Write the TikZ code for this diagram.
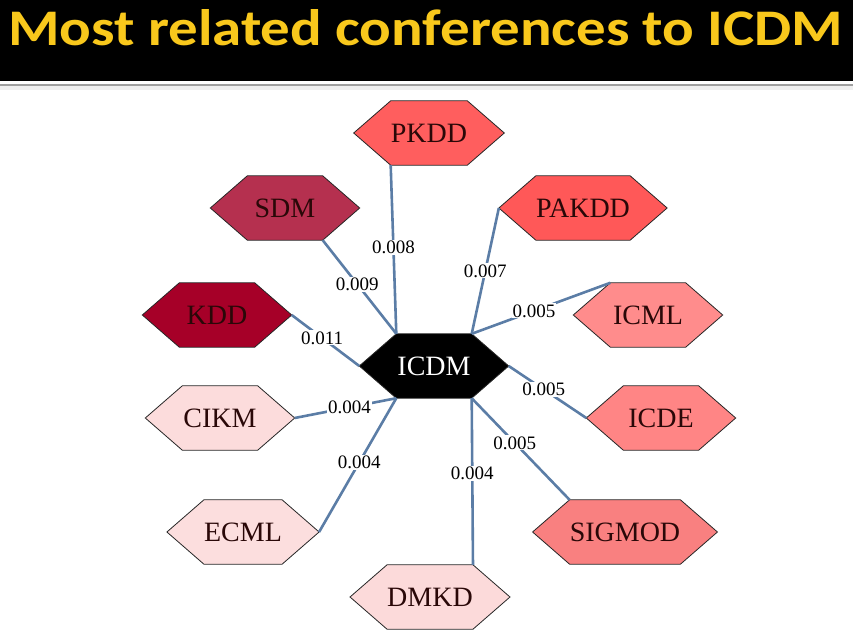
\documentclass[tikz,border=0pt]{standalone}
\usepackage{fontspec}
\setmainfont{Liberation Serif}
\newfontfamily\titlefont{Carlito}
\usetikzlibrary{backgrounds,calc}
\definecolor{titleyellow}{HTML}{F9C81C}
\definecolor{edgeblue}{HTML}{5B7DA6}
\definecolor{nodetext}{HTML}{2A0808}
\definecolor{cKDD}{HTML}{A60028}
\definecolor{cSDM}{HTML}{B5304F}
\definecolor{cPKDD}{HTML}{FF5E5E}
\definecolor{cPAKDD}{HTML}{FF5858}
\definecolor{cICML}{HTML}{FF8C8C}
\definecolor{cICDE}{HTML}{FF8585}
\definecolor{cSIGMOD}{HTML}{F98080}
\definecolor{cCIKM}{HTML}{FCDCDC}
\definecolor{cECML}{HTML}{FCDEDE}
\definecolor{cDMKD}{HTML}{FCDADA}
\newcommand\hexbg[2]{%
  \begin{pgfonlayer}{background}
  \filldraw[fill=#2, draw=black!85, line width=0.8pt]
    (#1.north west) -- (#1.north east) -- ([xshift=37pt]#1.east) --
    (#1.south east) -- (#1.south west) -- ([xshift=-37pt]#1.west) -- cycle;
  \end{pgfonlayer}}
\begin{document}
\begin{tikzpicture}[x=1pt,y=-1pt,
  hexlab/.style={rectangle, minimum width=75pt, minimum height=64pt, inner sep=0pt,
    font=\fontsize{28}{30}\selectfont, text=nodetext},
  conn/.style={draw=edgeblue, line width=2.6pt},
  wlab/.style={fill=white, inner sep=1pt, text=black, font=\fontsize{19}{21}\selectfont},
  titlestyle/.style={inner sep=0pt, anchor=base west, text=titleyellow}]
\useasboundingbox (0,0) rectangle (853,636);
% title bar
\fill[black] (0,0) rectangle (853,81);
\node[titlestyle] (title) at (8,46)
  {\resizebox{835pt}{36pt}{\titlefont\bfseries Most related conferences to ICDM}};
\fill[gray!12] (0,86) rectangle (853,90);
\draw[gray!75, line width=2pt] (0,85) -- (853,85);
% nodes
\node[hexlab, text=white] (icdm) at (434,366) {ICDM};
\node[hexlab] (pkdd)   at (429,133) {PKDD};
\node[hexlab] (sdm)    at (285,208) {SDM};
\node[hexlab] (pakdd)  at (583,208) {PAKDD};
\node[hexlab] (kdd)    at (217,315) {KDD};
\node[hexlab] (icml)   at (648,315) {ICML};
\node[hexlab] (cikm)   at (220,418) {CIKM};
\node[hexlab] (icde)   at (661,418) {ICDE};
\node[hexlab] (ecml)   at (243,532) {ECML};
\node[hexlab] (sigmod) at (625,532) {SIGMOD};
\node[hexlab] (dmkd)   at (430,597) {DMKD};
\hexbg{icdm}{black}
\hexbg{pkdd}{cPKDD}
\hexbg{sdm}{cSDM}
\hexbg{pakdd}{cPAKDD}
\hexbg{kdd}{cKDD}
\hexbg{icml}{cICML}
\hexbg{cikm}{cCIKM}
\hexbg{icde}{cICDE}
\hexbg{ecml}{cECML}
\hexbg{sigmod}{cSIGMOD}
\hexbg{dmkd}{cDMKD}
% connectors
\draw[conn] ([xshift=37pt]kdd.east) -- node[wlab, pos=0.45] {0.011} ([xshift=-37pt]icdm.west);
\draw[conn] (sdm.south east) -- node[wlab, pos=0.47] {0.009} (icdm.north west);
\draw[conn] (pkdd.south west) -- node[wlab, pos=0.49] {0.008} (icdm.north west);
\draw[conn] ([xshift=-37pt]pakdd.west) -- node[wlab, pos=0.5] {0.007} (icdm.north east);
\draw[conn] (icml.north west) -- node[wlab, pos=0.55] {0.005} (icdm.north east);
\draw[conn] ([xshift=37pt]icdm.east) -- node[wlab, pos=0.45] {0.005} ([xshift=-37pt]icde.west);
\draw[conn] (icdm.south east) -- node[wlab, pos=0.44] {0.005} (sigmod.north west);
\draw[conn] (icdm.south east) -- node[wlab, pos=0.45] {0.004} (dmkd.north east);
\draw[conn] ([xshift=37pt]cikm.east) -- node[wlab, pos=0.54] {0.004} (icdm.south west);
\draw[conn] ([xshift=37pt]ecml.east) -- node[wlab, pos=0.52] {0.004} (icdm.south west);
\end{tikzpicture}
\end{document}
